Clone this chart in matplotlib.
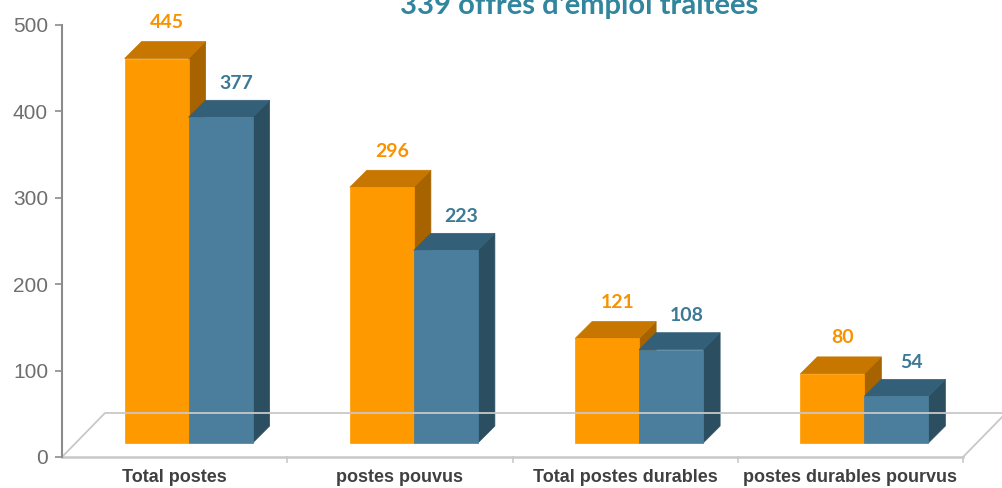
import matplotlib.pyplot as plt
from matplotlib.patches import Polygon

categories = ['Total postes', 'postes pouvus', 'Total postes durables', 'postes durables pourvus']
orange_vals = [445, 296, 121, 80]
blue_vals = [377, 223, 108, 54]
title = "339 offres d'emploi traitées"

# colours: front, top, side
orange = ('#FF9900', '#C77700', '#A66300')
blue = ('#4A7E9C', '#336078', '#2B4F61')

W, H = 1002, 488
fig = plt.figure(figsize=(W / 100, H / 100), dpi=100)
ax_left, ax_bottom = 62 / W, 31 / H
ax = fig.add_axes([ax_left, ax_bottom, 1 - ax_left, 432 / H])

px_x = 225.25  # pixels per category
px_y = 0.864   # pixels per value unit
ax.set_xlim(0, (W - 62) / px_x)
ax.set_ylim(0, 500)

# floor depth and bar depth (in data units)
fdx, fdy = 43 / px_x, 44 / px_y
bdx, bdy = 17 / px_x, 17 / px_y
sx, sy = 14 / px_x, 14 / px_y   # bar front offset into the floor
w = 64 / px_x

n = len(categories)
floor_col = '#c8c8c8'
ax.plot([0, fdx, 6], [0, fdy, fdy], color=floor_col, lw=1.3, clip_on=False)
ax.plot([n, n + fdx], [0, fdy], color=floor_col, lw=1.3, clip_on=False)
ax.plot([0, n], [0, 0], color=floor_col, lw=1.8, clip_on=False)
for t in range(1, n + 1):
    ax.plot([t, t], [0, -6], color=floor_col, lw=1.2, clip_on=False)


def bar3d(x0, v, cols):
    b = sy
    front = [(x0, b), (x0 + w, b), (x0 + w, b + v), (x0, b + v)]
    top = [(x0, b + v), (x0 + w, b + v), (x0 + w + bdx, b + v + bdy), (x0 + bdx, b + v + bdy)]
    side = [(x0 + w, b), (x0 + w + bdx, b + bdy), (x0 + w + bdx, b + v + bdy), (x0 + w, b + v)]
    for pts, c in [(side, cols[2]), (top, cols[1]), (front, cols[0])]:
        ax.add_patch(Polygon(pts, closed=True, facecolor=c, edgecolor=c, lw=0.5, clip_on=False))


lab_font = dict(family=['Lato', 'DejaVu Sans'], fontweight='bold', fontsize=14)
for i in range(n):
    c = i + 0.5 + sx
    bar3d(c - w, orange_vals[i], orange)
    bar3d(c, blue_vals[i], blue)
    ax.text(c - w / 2 + bdx * 0.6, orange_vals[i] + sy + 36 / px_y, str(orange_vals[i]),
            color='#F79200', ha='center', va='center', **lab_font)
    ax.text(c + w / 2 + bdx * 0.9, blue_vals[i] + sy + 34 / px_y, str(blue_vals[i]),
            color='#3D7896', ha='center', va='center', **lab_font)

for s in ['top', 'right', 'bottom']:
    ax.spines[s].set_visible(False)
ax.spines['left'].set_color('#8c8c8c')
ax.spines['left'].set_linewidth(1.5)
ax.set_yticks(range(0, 501, 100))
ax.tick_params(axis='y', colors='#8c8c8c', length=5, width=1.2, labelsize=15,
               labelcolor='#6e6e6e', pad=5)
for lbl in ax.get_yticklabels():
    lbl.set_family(['Liberation Sans', 'DejaVu Sans'])
ax.set_xticks([i + 0.5 for i in range(n)])
ax.set_xticklabels(categories, fontsize=13, fontweight='bold', color='#404040',
                   family=['Liberation Sans', 'DejaVu Sans'])
ax.tick_params(axis='x', length=0, pad=9)

fig.text(579 / W, 1 - 14 / H, title, ha='center', va='baseline', color='#31859C',
         fontsize=21, fontweight='bold', family=['Lato', 'DejaVu Sans'])

fig.savefig('out.png', dpi=100)
